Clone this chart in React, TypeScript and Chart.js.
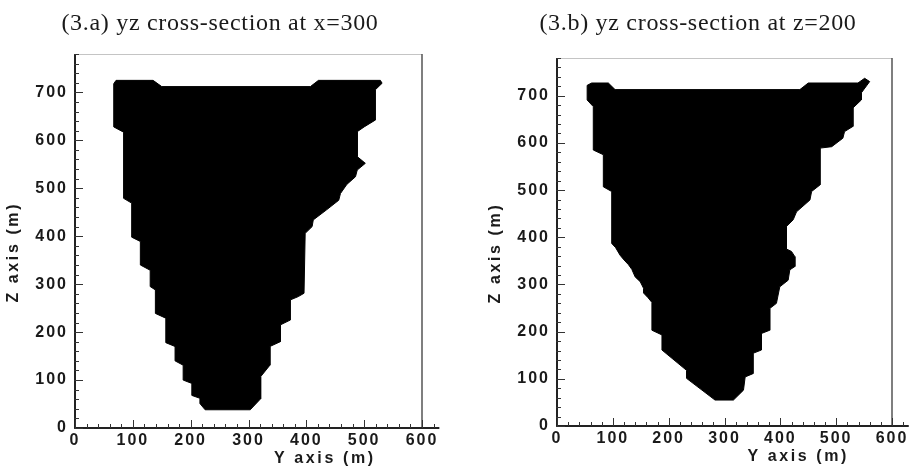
import React, { useEffect, useRef } from "react";
import { Chart, registerables } from "chart.js";

Chart.register(...registerables);

// ---------- data ----------
const xTickValues = [0, 100, 200, 300, 400, 500, 600];
const zTickValues = [0, 100, 200, 300, 400, 500, 600, 700];

const titleA = "(3.a) yz cross-section at x=300";
const titleB = "(3.b) yz cross-section at z=200";
const xAxisTitle = "Y axis (m)";
const yAxisTitle = "Z axis (m)";

// outline of section (3.a): Y (m) and Z (m), clockwise
const secA_Y = [67, 71, 135, 150, 407, 421, 528, 531, 519, 519, 500, 488, 488, 502, 488, 485, 470, 459, 456, 435, 412, 410, 398,
  396, 386, 372, 372, 355, 355, 337, 337, 321, 321, 303, 225, 216, 216, 202, 202, 187, 187, 173, 173, 157, 157, 139, 139, 130, 130,
  113, 113, 98, 98, 84, 84, 67, 67];
const secA_Z = [718, 725, 725, 712, 712, 725, 725, 719, 705, 642, 628, 618, 566, 552, 538, 524, 508, 489, 475, 455, 434, 420, 406,
  281, 274, 267, 225, 215, 180, 170, 131, 107, 61, 38, 38, 51, 62, 68, 93, 100, 131, 140, 170, 178, 229, 239, 288, 295, 329,
  340, 389, 398, 469, 479, 617, 628, 718];

// outline of section (3.b): Y (m) and Z (m), clockwise
const secB_Y = [54, 62, 92, 104, 435, 450, 539, 551, 560, 545, 545, 530, 530, 515, 512, 492, 471, 471, 456, 453, 429, 423, 411,
  411, 420, 426, 426, 417, 414, 399, 393, 381, 381, 366, 366, 351, 351, 337, 334, 316, 283, 232, 232, 188, 188, 170, 170, 163,
  155, 155, 149, 140, 134, 128, 120, 113, 105, 98, 98, 83, 83, 65, 65, 54, 54];
const secB_Z = [722, 727, 727, 713, 713, 727, 727, 737, 730, 706, 691, 674, 635, 624, 610, 592, 589, 511, 497, 479, 454, 437, 423,
  375, 370, 359, 338, 331, 309, 295, 260, 249, 203, 196, 161, 154, 111, 104, 76, 55, 55, 101, 118, 161, 193, 203, 262, 272,
  282, 292, 306, 316, 332, 342, 352, 362, 378, 387, 497, 507, 575, 585, 677, 691, 722];

// ---------- drawing ----------
type Area = { left: number; right: number; top: number; bottom: number };

const tickFont = { family: '"Liberation Sans", Arial, sans-serif', size: 16, weight: "bold" as const };

const framePlugin = {
  id: "frame",
  beforeLayout(chart: any) {
    chart.ctx.letterSpacing = "2px";
  },
  beforeDraw(chart: any) {
    chart.ctx.letterSpacing = "2px";
  },
  afterDraw(chart: any) {
    const { ctx, chartArea: a } = chart;
    const x = chart.scales.x;
    const y = chart.scales.y;
    ctx.save();
    // top border
    ctx.strokeStyle = "#c4c4c4";
    ctx.lineWidth = 1;
    ctx.beginPath();
    ctx.moveTo(a.left, a.top + 0.5);
    ctx.lineTo(a.right, a.top + 0.5);
    ctx.stroke();
    // right border
    ctx.strokeStyle = "#555";
    ctx.lineWidth = 1.5;
    ctx.beginPath();
    ctx.moveTo(a.right, a.top);
    ctx.lineTo(a.right, a.bottom);
    ctx.stroke();
    // left + bottom axes
    ctx.strokeStyle = "#222";
    ctx.lineWidth = 2;
    ctx.beginPath();
    ctx.moveTo(a.left, a.top);
    ctx.lineTo(a.left, a.bottom);
    ctx.lineTo(x.getPixelForValue(630), a.bottom);
    ctx.stroke();
    // ticks
    ctx.lineWidth = 1;
    ctx.strokeStyle = "#333";
    ctx.beginPath();
    for (let v = 0; v <= 620; v += 20) {
      const px = Math.round(x.getPixelForValue(v)) + 0.5;
      const len = v % 100 === 0 ? 8 : 4;
      ctx.moveTo(px, a.bottom);
      ctx.lineTo(px, a.bottom - len);
    }
    for (let v = 0; v <= 780; v += 20) {
      const py = Math.round(y.getPixelForValue(v)) + 0.5;
      const len = v % 100 === 0 ? 8 : 4;
      ctx.moveTo(a.left - 1, py);
      ctx.lineTo(a.left + len, py);
    }
    ctx.stroke();
    // axis titles
    ctx.fillStyle = "#1a1a1a";
    ctx.font = 'bold 16px "Liberation Sans", Arial, sans-serif';
    ctx.letterSpacing = "2.6px";
    ctx.textAlign = "center";
    ctx.textBaseline = "middle";
    ctx.fillText(xAxisTitle, a.left + 0.72 * (a.right - a.left), a.bottom + 31);
    ctx.translate(a.left - 61, a.top + 0.53 * (a.bottom - a.top));
    ctx.rotate(-Math.PI / 2);
    ctx.fillText(yAxisTitle, 0, 0);
    ctx.restore();
  },
};

function Panel(props: {
  ys: number[];
  zs: number[];
  left: number;
  width: number;
  height: number;
  area: Area;
  title: string;
  titleX: number;
}) {
  const ref = useRef<HTMLCanvasElement | null>(null);
  const { ys, zs, width, height, area } = props;

  useEffect(() => {
    if (!ref.current) return;
    const pts = ys.map((yv, i) => ({ x: yv, y: zs[i] }));
    const chart = new Chart(ref.current, {
      type: "scatter",
      data: {
        datasets: [
          {
            data: pts,
            showLine: true,
            fill: "shape",
            borderColor: "#000",
            backgroundColor: "#000",
            borderWidth: 1,
            pointRadius: 0,
            tension: 0,
          } as any,
        ],
      },
      options: {
        animation: false,
        responsive: false,
        maintainAspectRatio: false,
        events: [],
        layout: { padding: { top: area.top, right: width - area.right, left: 0, bottom: 0 } },
        plugins: {
          legend: { display: false },
          tooltip: { enabled: false },
          title: { display: false },
        },
        scales: {
          x: {
            type: "linear",
            min: 0,
            max: 600,
            afterBuildTicks: (s: any) => {
              s.ticks = xTickValues.map((v) => ({ value: v }));
            },
            afterFit: (s: any) => {
              s.height = height - area.bottom;
            },
            grid: { display: false, drawTicks: false },
            border: { display: false },
            ticks: { font: tickFont, color: "#1a1a1a", padding: 3, maxRotation: 0, autoSkip: false },
          },
          y: {
            type: "linear",
            min: 0,
            max: 780,
            afterBuildTicks: (s: any) => {
              s.ticks = zTickValues.map((v) => ({ value: v }));
            },
            afterFit: (s: any) => {
              s.width = area.left;
            },
            grid: { display: false, drawTicks: false },
            border: { display: false },
            ticks: { font: tickFont, color: "#1a1a1a", padding: 7, autoSkip: false },
          },
        },
      },
      plugins: [framePlugin],
    });
    return () => chart.destroy();
  }, []);

  return (
    <div style={{ position: "absolute", left: props.left, top: 0, width, height }}>
      <canvas ref={ref} width={width} height={height} style={{ width, height, display: "block" }} />
      <div
        style={{
          position: "absolute",
          left: props.titleX,
          top: 8,
          transform: "translateX(-50%)",
          whiteSpace: "nowrap",
          fontFamily: '"Liberation Serif", "Times New Roman", serif',
          fontSize: 24,
          letterSpacing: "0.7px",
          lineHeight: "28px",
          color: "#1a1a1a",
        }}
      >
        {props.title}
      </div>
    </div>
  );
}

export default function App() {
  return (
    <div style={{ position: "fixed", left: 0, top: 0, width: 913, height: 474, background: "#fff", overflow: "hidden" }}>
      <Panel
        ys={secA_Y}
        zs={secA_Z}
        left={0}
        width={456}
        height={474}
        area={{ left: 75, right: 422, top: 54, bottom: 428 }}
        title={titleA}
        titleX={220}
      />
      <Panel
        ys={secB_Y}
        zs={secB_Z}
        left={456}
        width={457}
        height={474}
        area={{ left: 101, right: 436, top: 58, bottom: 426 }}
        title={titleB}
        titleX={242}
      />
    </div>
  );
}
